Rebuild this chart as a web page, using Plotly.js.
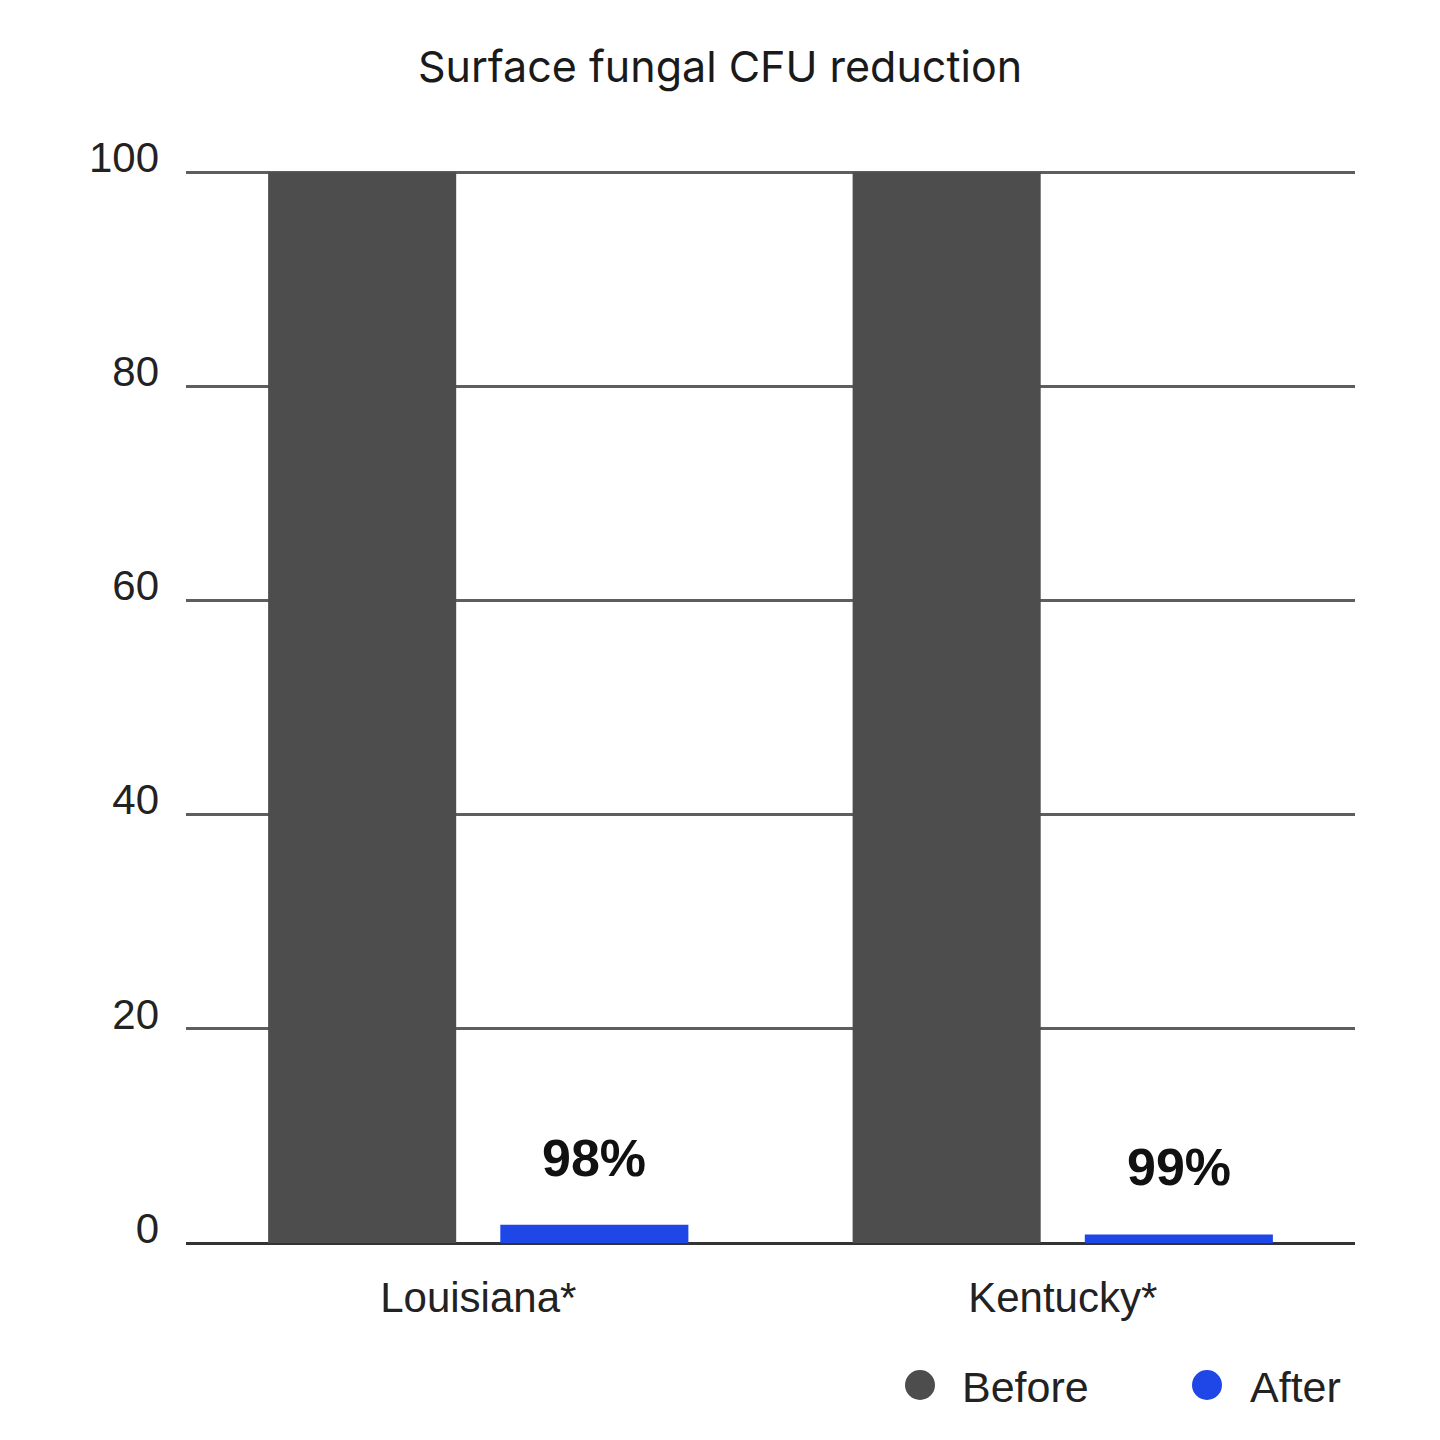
<!DOCTYPE html>
<html>
<head>
<meta charset="utf-8">
<script src="https://cdn.plot.ly/plotly-3.0.1.min.js"></script>
<style>html,body{margin:0;padding:0;background:#fff;}#chart{width:1440px;height:1440px;}</style>
</head>
<body>
<div id="chart"></div>
<script>
// ---- data ----
var categories = ['Louisiana*', 'Kentucky*'];
var beforeValues = [100, 100];
var afterValues = [1.7, 0.8];
var reductionLabels = ['98%', '99%'];
var seriesNames = ['Before', 'After'];
var yTickValues = [0, 20, 40, 60, 80, 100];
var yTickLabels = ['0', '20', '40', '60', '80', '100'];

// ---- style ----
var W = 1440, H = 1440;
var M = {l: 186, r: 85, t: 170, b: 197};
var plotW = W - M.l - M.r, plotH = H - M.t - M.b;
function px2x(px) { return (px - M.l) / plotW; }
function px2y(py) { return 1 - (py - M.t) / plotH; }
var colBefore = '#4d4d4d', colAfter = '#1f46e6';

var traces = [
  {type: 'bar', name: seriesNames[0], x: categories, y: beforeValues,
   marker: {color: colBefore}, showlegend: false, hoverinfo: 'x+y'},
  {type: 'bar', name: seriesNames[1], x: categories, y: afterValues,
   marker: {color: colAfter}, showlegend: false, hoverinfo: 'x+y'}
];

var annotations = [];
for (var i = 0; i < categories.length; i++) {
  annotations.push({
    x: categories[i], y: afterValues[i], xref: 'x', yref: 'y',
    text: '<b>' + reductionLabels[i] + '</b>', showarrow: false,
    xanchor: 'center', yanchor: 'bottom', xshift: 116, yshift: 36,
    font: {family: 'Liberation Sans, Arial, sans-serif', size: 52, color: '#111'}
  });
}

// custom legend with circle markers
var legendItems = [
  {name: seriesNames[0], color: colBefore, cx: 920, tx: 960},
  {name: seriesNames[1], color: colAfter, cx: 1207, tx: 1248}
];
var legendY = 1385;
var shapes = [];
legendItems.forEach(function (it) {
  shapes.push({type: 'circle', xref: 'paper', yref: 'paper',
    xsizemode: 'pixel', ysizemode: 'pixel',
    xanchor: px2x(it.cx), yanchor: px2y(legendY),
    x0: -15, x1: 15, y0: -15, y1: 15,
    fillcolor: it.color, line: {width: 0}});
  annotations.push({x: px2x(it.tx), y: px2y(legendY + 2), xref: 'paper', yref: 'paper',
    text: it.name, showarrow: false, xanchor: 'left', yanchor: 'middle',
    font: {family: 'Liberation Sans, Arial, sans-serif', size: 43, color: '#222'}});
});

var layout = {
  width: W, height: H,
  margin: M,
  paper_bgcolor: '#fff', plot_bgcolor: '#fff',
  barmode: 'group', bargap: 0.2055, bargroupgap: 0.19,
  showlegend: false,
  title: {text: 'Surface fungal CFU reduction', xref: 'container', yref: 'container',
    x: 0.5, xanchor: 'center', y: 1 - 67 / H, yanchor: 'middle',
    font: {family: 'Inter, Roboto, sans-serif', size: 43, color: '#1a1a1a'}},
  xaxis: {type: 'category', range: [-0.5, 1.5], showgrid: false, showline: false,
    ticks: '', ticklabelstandoff: 26, zeroline: false,
    tickfont: {family: 'Liberation Sans, Arial, sans-serif', size: 42, color: '#222'}},
  yaxis: {range: [0, 100.2], tickvals: yTickValues, ticktext: yTickLabels,
    showgrid: true, gridcolor: '#5e5e5e', gridwidth: 2.5,
    zeroline: true, zerolinecolor: '#333', zerolinewidth: 3,
    showline: false, ticks: '', ticklabelstandoff: 26, ticklabelshift: -15,
    tickfont: {family: 'Liberation Sans, Arial, sans-serif', size: 42, color: '#222'}},
  annotations: annotations,
  shapes: shapes
};

Plotly.newPlot('chart', traces, layout, {displayModeBar: false, responsive: false});
</script>
</body>
</html>
